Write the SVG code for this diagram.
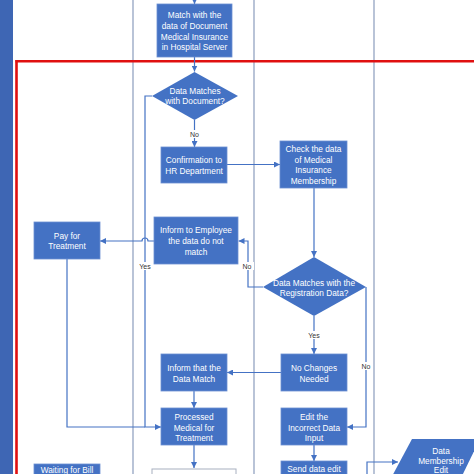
<svg xmlns="http://www.w3.org/2000/svg" width="474" height="474" viewBox="0 0 474 474">
<defs>
<marker id="ah" viewBox="0 0 10 10" refX="10" refY="5" markerWidth="6" markerHeight="6" markerUnits="userSpaceOnUse" orient="auto">
<path d="M0 0 L10 5 L0 10 Z" fill="#4472c4"/>
</marker>
<style>
.box{fill:#4472c4;stroke:#6b8fd2;stroke-width:0.8}
.t{font-family:"Liberation Sans",Arial,sans-serif;font-size:8.3px;fill:#ffffff;text-anchor:middle}
.lbl{font-family:"Liberation Sans",Arial,sans-serif;font-size:7px;fill:#333333;text-anchor:middle}
.c{fill:none;stroke:#4472c4;stroke-width:1.2}
.lane{stroke:#8a9cbc;stroke-width:1.2}
</style>
</defs>
<rect width="474" height="474" fill="#ffffff"/>
<rect x="0" y="0" width="13" height="474" fill="#3e66b4"/>
<g id="lanes">
<line class="lane" x1="133" y1="0" x2="133" y2="474"/>
<line class="lane" x1="254" y1="0" x2="254" y2="474"/>
<line class="lane" x1="374" y1="0" x2="374" y2="474"/>
</g>
<g id="phase">
<line x1="15.5" y1="61.3" x2="474" y2="61.3" stroke="#e01010" stroke-width="2.6"/>
<line x1="16.5" y1="60" x2="16.5" y2="474" stroke="#e01010" stroke-width="2.6"/>
</g>
<g id="connectors">
<path class="c" d="M194.5 0 V4" marker-end="url(#ah)"/>
<path class="c" d="M194.5 57 V71.5" marker-end="url(#ah)"/>
<path class="c" d="M194.5 120 V147" marker-end="url(#ah)"/>
<path class="c" d="M152 96 H145 V427 H161" marker-end="url(#ah)"/>
<path class="c" d="M67 259 V427 H145"/>
<path class="c" d="M227 164.5 H280" marker-end="url(#ah)"/>
<path class="c" d="M314 188 V257" marker-end="url(#ah)"/>
<path class="c" d="M263 287 H248 V241 H238.5" marker-end="url(#ah)"/>
<path class="c" d="M154 241 H148 A3 3 0 0 0 142 241 H100" marker-end="url(#ah)"/>
<path class="c" d="M314 316 V354" marker-end="url(#ah)"/>
<path class="c" d="M366 287 V427 H347" marker-end="url(#ah)"/>
<path class="c" d="M281 372.5 H227" marker-end="url(#ah)"/>
<path class="c" d="M194 391 V408" marker-end="url(#ah)"/>
<path class="c" d="M194 445 V468" marker-end="url(#ah)"/>
<path class="c" d="M314 445 V461" marker-end="url(#ah)"/>
<path class="c" d="M367 474 V462 H398" marker-end="url(#ah)"/>
<rect x="188" y="130" width="13" height="8" fill="#ffffff"/>
<text class="lbl" x="194.5" y="136.5">No</text>
<rect x="138" y="262" width="14" height="8" fill="#ffffff"/>
<text class="lbl" x="145" y="268.5">Yes</text>
<rect x="241" y="262" width="13" height="8" fill="#ffffff"/>
<text class="lbl" x="247" y="268.5">No</text>
<rect x="307" y="331" width="14" height="8" fill="#ffffff"/>
<text class="lbl" x="314" y="337.5">Yes</text>
<rect x="360" y="362" width="13" height="8" fill="#ffffff"/>
<text class="lbl" x="366" y="368.5">No</text>
</g>
<g id="match-server">
<rect class="box" x="157" y="4" width="75" height="53"/>
<text class="t" x="194.5" y="18">Match with the</text>
<text class="t" x="194.5" y="28.8">data of Document</text>
<text class="t" x="194.5" y="39.6">Medical Insurance</text>
<text class="t" x="194.5" y="50.4">in Hospital Server</text>
</g>
<g id="decision-document">
<polygon points="194.5,72 238,96 194.5,120 152,96" fill="#4472c4"/>
<text class="t" x="195" y="93.5">Data Matches</text>
<text class="t" x="195" y="104.3">with Document?</text>
</g>
<g id="confirm-hr">
<rect class="box" x="161" y="147" width="66" height="36"/>
<text class="t" x="194" y="163">Confirmation to</text>
<text class="t" x="194" y="173.6">HR Department</text>
</g>
<g id="check-membership">
<rect class="box" x="280" y="141" width="67" height="47"/>
<text class="t" x="313.5" y="152.2">Check the data</text>
<text class="t" x="313.5" y="162.8">of Medical</text>
<text class="t" x="313.5" y="173.4">Insurance</text>
<text class="t" x="313.5" y="184">Membership</text>
</g>
<g id="inform-employee">
<rect class="box" x="154" y="217" width="84" height="47"/>
<text class="t" x="196" y="233">Inform to Employee</text>
<text class="t" x="196" y="243.8">the data do not</text>
<text class="t" x="196" y="254.6">match</text>
</g>
<g id="pay-treatment">
<rect class="box" x="34" y="222" width="66" height="37"/>
<text class="t" x="67" y="238.5">Pay for</text>
<text class="t" x="67" y="249.2">Treatment</text>
</g>
<g id="decision-registration">
<polygon points="314,257 366,287 314,316 263,287" fill="#4472c4"/>
<text class="t" x="314" y="285.5">Data Matches with the</text>
<text class="t" x="314" y="295.8">Registration Data?</text>
</g>
<g id="inform-match">
<rect class="box" x="161" y="354" width="66" height="37"/>
<text class="t" x="194" y="371">Inform that the</text>
<text class="t" x="194" y="381.8">Data Match</text>
</g>
<g id="no-changes">
<rect class="box" x="281" y="354" width="66" height="37"/>
<text class="t" x="314" y="371">No Changes</text>
<text class="t" x="314" y="381.8">Needed</text>
</g>
<g id="processed-medical">
<rect class="box" x="161" y="408" width="66" height="37"/>
<text class="t" x="194" y="420">Processed</text>
<text class="t" x="194" y="430.6">Medical for</text>
<text class="t" x="194" y="441.2">Treatment</text>
</g>
<g id="edit-incorrect">
<rect class="box" x="281" y="408" width="66" height="37"/>
<text class="t" x="314" y="420">Edit the</text>
<text class="t" x="314" y="430.6">Incorrect Data</text>
<text class="t" x="314" y="441.2">Input</text>
</g>
<g id="send-edit">
<rect class="box" x="281" y="461" width="66" height="20"/>
<text class="t" x="314" y="472">Send data edit</text>
</g>
<g id="waiting-bill">
<rect class="box" x="34" y="464" width="66" height="20"/>
<text class="t" x="67" y="472.5">Waiting for Bill</text>
</g>
<g id="next-step">
<rect x="152" y="469" width="84" height="20" fill="#ffffff" stroke="#a8b0c0" stroke-width="1"/>
</g>
<g id="membership-edit">
<polygon points="412,439 480,439 460,480 390,480" fill="#4472c4"/>
<text class="t" x="441" y="453.5">Data</text>
<text class="t" x="441" y="463.5">Membership</text>
<text class="t" x="441" y="472.5">Edit</text>
</g>
</svg>
